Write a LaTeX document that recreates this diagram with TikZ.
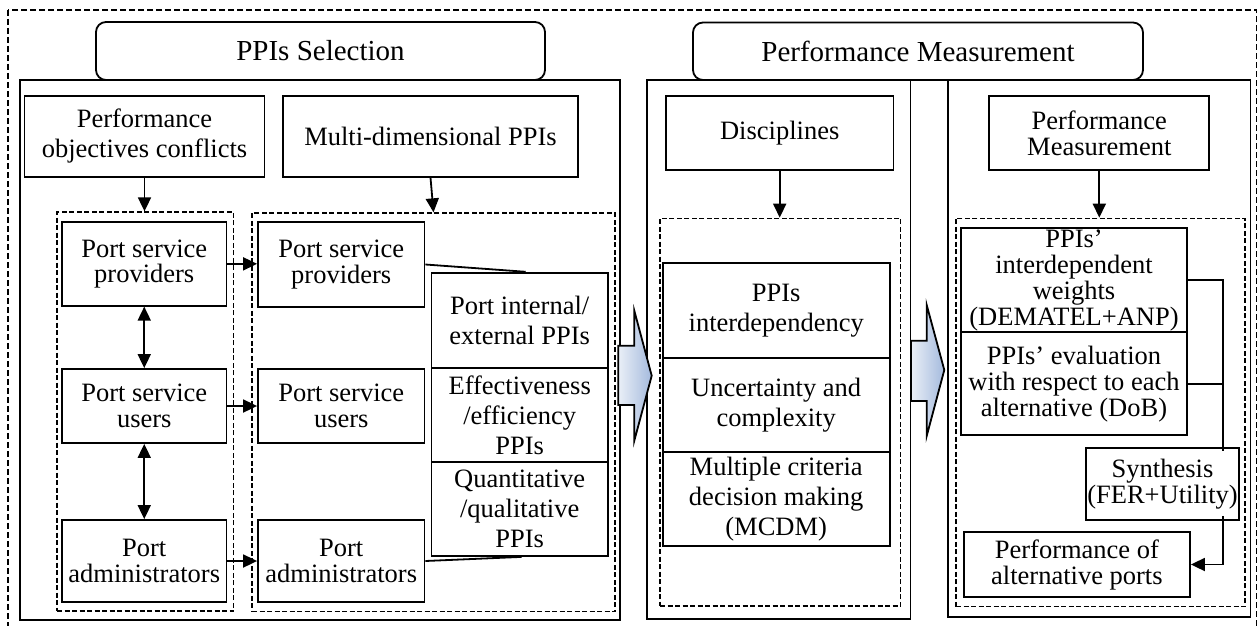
\documentclass[tikz,border=0pt]{standalone}
\usepackage{fontspec}
\setmainfont{Liberation Serif}
\usetikzlibrary{arrows.meta}
\definecolor{arrL}{RGB}{234,239,247}
\definecolor{arrR}{RGB}{164,186,221}
\begin{document}
\begin{tikzpicture}[x=1pt,y=-1pt,
  box/.style={draw, line width=1.8pt, fill=white, inner sep=0pt, align=center},
  tight/.style={font=\fontsize{26.5}{25.5}\selectfont},
  mid/.style={font=\fontsize{26.5}{26}\selectfont},
  wide/.style={font=\fontsize{26.5}{30}\selectfont},
  titlebox/.style={draw, line width=1.8pt, fill=white, rounded corners=10pt, inner sep=0pt, font=\fontsize{29}{30}\selectfont},
  panel/.style={draw, line width=1.8pt, inner sep=0pt},
  dbox/.style={draw, line width=1.3pt, dash pattern=on 5pt off 2.5pt, inner sep=0pt},
  wh/.style 2 args={minimum width=#1, minimum height=#2},
  conn/.style={line width=1.8pt},
  arr/.style={line width=1.8pt, -{Triangle[length=14pt,width=13pt]}},
  dbl/.style={line width=1.8pt, {Triangle[length=14pt,width=13pt]}-{Triangle[length=14pt,width=13pt]}},
  blockarrow/.style={draw=black, line width=1.8pt, line join=miter, left color=arrL, right color=arrR}
]
\useasboundingbox (0,0) rectangle (1258,626);

% outer dashed frame
\draw[line width=1.3pt, dash pattern=on 6pt off 3pt] (8,10) rectangle (1256.5,634);

% panels
\node[panel, wh={600}{540}] (PL) at (320,350) {};
\node[panel, wh={263.5}{539}] (PMid) at (778.75,349.5) {};
\node[panel, wh={302.5}{537}] (PR) at (1099.25,348.5) {};

% titles
\node[titlebox, wh={449}{58}] (T1) at (320.5,51) {PPIs Selection};
\node[titlebox, wh={450}{57.5}] (T2) at (918,51.25) {Performance Measurement};

% ---------- PPIs selection ----------
\node[box, wide, wh={240}{80.7}] (POC) at (144.5,136.35) {Performance\\objectives conflicts};
\node[box, wide, wh={295}{80.7}] (MDP) at (430.5,136.35) {Multi-dimensional PPIs};

\node[dbox, wh={176.5}{399}] (LD) at (145.25,411.5) {};
\node[dbox, wh={363}{398.7}] (RD) at (433.5,412.35) {};

\node[box, tight, wh={164.5}{83.7}] (PSPL) at (144.25,263.85) {Port service\\providers};
\node[box, tight, wh={164.5}{74}] (PSUL) at (144.25,406) {Port service\\users};
\node[box, tight, wh={164.5}{82}] (PAL) at (144.25,561) {Port\\administrators};

\node[box, tight, wh={166.5}{85}] (PSPR) at (341.25,264.5) {Port service\\providers};
\node[box, tight, wh={166.5}{74}] (PSUR) at (341.25,406) {Port service\\users};
\node[box, tight, wh={166.5}{82}] (PAR) at (341.25,561) {Port\\administrators};

\node[box, wide, wh={176.6}{95.3}] (PIE) at (519.7,320.35) {Port internal/\\external PPIs};
\node[box, wide, wh={176.6}{94}] (EE) at (519.7,415) {Effectiveness\\/efficiency\\PPIs};
\node[box, wide, wh={176.6}{94}] (QQ) at (519.7,509) {Quantitative\\/qualitative\\PPIs};

\draw[arr] (POC.south) -- (POC.south |- LD.north);
\draw[arr] (MDP.south) -- (RD.north);
\draw[arr] (PSPL.east) -- (PSPL.east -| PSPR.west);
\draw[arr] (PSUL.east) -- (PSUL.east -| PSUR.west);
\draw[arr] (PAL.east) -- (PAL.east -| PAR.west);
\draw[dbl] (PSPL.south) -- (PSUL.north);
\draw[dbl] (PSUL.south) -- (PAL.north);
\draw[conn] (PSPR.east) -- ([xshift=6pt]PIE.north);
\draw[conn] (PAR.east) -- ([xshift=2pt]QQ.south);

% ---------- middle ----------
\node[box, wide, wh={227.4}{74.3}] (DIS) at (779.7,132.85) {Disciplines};
\node[dbox, wh={240.7}{387.7}] (MD) at (780.35,412.15) {};
\node[box, wide, wh={227}{95}] (PI) at (776.2,310.8) {PPIs\\interdependency};
\node[box, wide, wh={227}{94}] (UC) at (776.2,405.3) {Uncertainty and\\complexity};
\node[box, wide, wh={227}{93.7}] (MC) at (776.2,499.15) {Multiple criteria\\decision making\\(MCDM)};
\draw[arr] (DIS.south) -- (DIS.south |- MD.north);

% ---------- right ----------
\node[box, mid, wh={220}{74.3}] (PM) at (1099.3,132.85) {Performance\\Measurement};
\node[dbox, wh={289}{388.4}] (RDd) at (1100.5,412.5) {};
\node[box, mid, wh={226}{104}] (W) at (1074,280.3) {PPIs’\\interdependent\\weights\\(DEMATEL+ANP)};
\node[box, mid, wh={226}{102.7}] (EV) at (1074,383.65) {PPIs’ evaluation\\with respect to each\\alternative (DoB)};
\node[box, tight, wh={153.6}{71.7}] (S) at (1162.5,484.15) {Synthesis\\(FER+Utility)};
\node[box, mid, wh={226.2}{64.4}] (PA) at (1076.9,564.5) {Performance of\\alternative ports};
\draw[arr] (PM.south) -- (PM.south |- RDd.north);

\coordinate (bus) at (1223,0);
\draw[conn] (W.east) -- (W.east -| bus) -- ([yshift=-4pt]S.north -| bus);
\draw[conn] (EV.east) -- (EV.east -| bus);
\draw[arr] ([yshift=5pt]S.south -| bus) |- (PA.east);

% block arrows
\path[blockarrow] (618.3,345.7) -- (634.3,345.7) -- (634.3,310.7) -- (651.7,375.7) -- (634.3,440.7) -- (634.3,405) -- (618.3,405) -- cycle;
\path[blockarrow] (911,340.7) -- (926.7,340.7) -- (926.7,305) -- (944.3,370) -- (926.7,436) -- (926.7,401) -- (911,401) -- cycle;
\end{tikzpicture}
\end{document}
